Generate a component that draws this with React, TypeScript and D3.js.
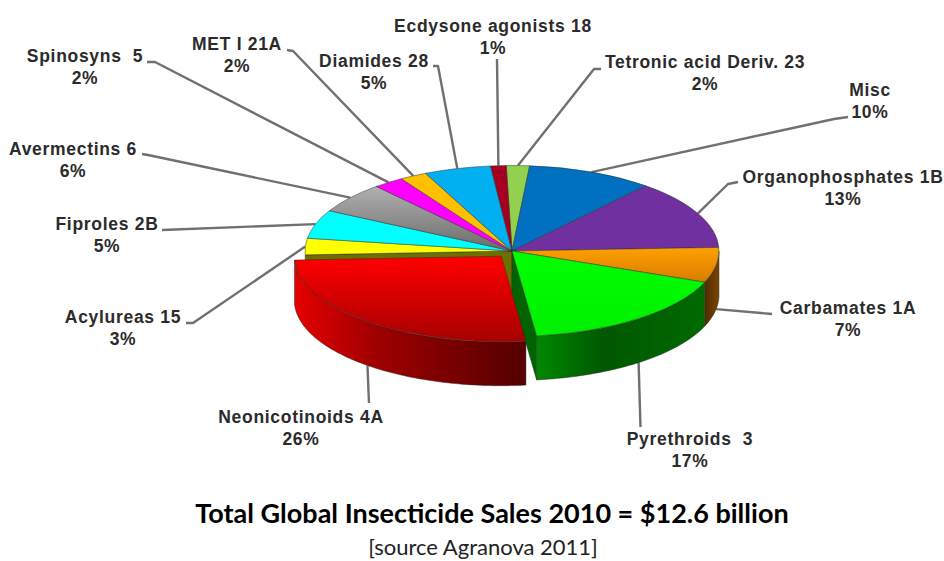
import React from "react";
import * as d3 from "d3";

// Insecticide classes, clockwise from the top of the pie.
const classNames = [
  "Tetronic acid Deriv. 23", "Misc", "Organophosphates 1B", "Carbamates 1A",
  "Pyrethroids  3", "Neonicotinoids 4A", "Acylureas 15", "Fiproles 2B",
  "Avermectins 6", "Spinosyns  5", "MET I 21A", "Diamides 28", "Ecdysone agonists 18",
];
// Share of sales in percent; the labels show these rounded to a whole percent.
const shares = [1.8, 9.8, 13.1, 6.6, 17.1, 26.1, 3.1, 5.4, 5.8, 2.4, 2.1, 5.2, 1.2];

const faceTop = ["#92d050", "#0070c0", "#7030a0", "#ffa000", "#00ff00", "#ff0000", "#ffff00", "#00ffff", "#b0b0b0", "#ff00ff", "#ffc000", "#00b0f0", "#a50021"];
const faceBottom = ["#92d050", "#0070c0", "#7030a0", "#d87c00", "#00f000", "#a80000", "#ffff00", "#00ffff", "#6c6c6c", "#ff00ff", "#ffc000", "#00b0f0", "#a50021"];

// Label anchor (centre x, first baseline) and leader polyline start per class.
const labelSpots = [
  { x: 705, y: 68, elbow: [[601, 69], [594, 69]] },
  { x: 870, y: 96, elbow: [[848, 117], [834, 119]] },
  { x: 843, y: 183, elbow: [[738, 182], [728, 184]] },
  { x: 848, y: 314, elbow: [[772, 314]] },
  { x: 690, y: 445, elbow: [[640.5, 427]] },
  { x: 301, y: 423, elbow: [[369, 403]] },
  { x: 123, y: 323, elbow: [[186, 323], [193, 323]] },
  { x: 107, y: 230, elbow: [[162, 230]] },
  { x: 73, y: 155, elbow: [[142, 154], [148, 155]] },
  { x: 85, y: 62, elbow: [[147, 62], [155, 62]] },
  { x: 237, y: 50, elbow: [[287, 50], [293, 51]] },
  { x: 374, y: 67, elbow: [[433, 66], [438, 66]] },
  { x: 493, y: 32, elbow: [[497, 59]] },
];

const WIDTH = 944;
const HEIGHT = 561;
const CX = 512;
const CY = 251;
const RX = 207;
const RY = 85.5;
const DEPTH = 44;
const START_DEG = -1.6;
const EXPLODED = 5;
const EXPLODE_BY = 0.08;
const LABEL_FONT = "'Liberation Sans', Arial, sans-serif";
const CAPTION_FONT = "Lato, sans-serif";

const slices = d3
  .pie<number>()
  .sort(null)
  .startAngle((START_DEG * Math.PI) / 180)
  .endAngle((START_DEG * Math.PI) / 180 + 2 * Math.PI)(shares);

const arcGen = d3.arc<d3.PieArcDatum<number>>().innerRadius(0).outerRadius(RX);
const pct = d3.format(".0f");

// Point on the projected rim for a pie angle (0 at the top, clockwise).
const rim = (a: number, cx = CX, cy = CY): [number, number] => [
  cx + RX * Math.sin(a),
  cy - RY * Math.cos(a),
];

const polyline = d3.line();

function wallPath(a0: number, a1: number, cx: number, cy: number) {
  const n = Math.max(2, Math.ceil(((a1 - a0) * 180) / Math.PI));
  const upper = d3.range(n + 1).map((i) => rim(a0 + ((a1 - a0) * i) / n, cx, cy));
  const lower = upper.map(([x, y]) => [x, y + DEPTH] as [number, number]).reverse();
  return polyline([...upper, ...lower]) + "Z";
}

function cutFace(a: number, cx: number, cy: number) {
  const p = rim(a, cx, cy);
  return polyline([[cx, cy], p, [p[0], p[1] + DEPTH], [cx, cy + DEPTH]]) + "Z";
}

const midAngle = (s: d3.PieArcDatum<number>) => (s.startAngle + s.endAngle) / 2;

function centreOf(i: number): [number, number] {
  if (i !== EXPLODED) return [CX, CY];
  const m = midAngle(slices[i]);
  return [CX + RX * EXPLODE_BY * Math.sin(m), CY - RY * EXPLODE_BY * Math.cos(m)];
}

function leaderPath(i: number) {
  const m = midAngle(slices[i]);
  const [cx, cy] = centreOf(i);
  const p = rim(m, cx, cy);
  const front = Math.cos(m) < -0.05;
  const end: [number, number] = front ? [p[0], p[1] + DEPTH] : p;
  return polyline([...(labelSpots[i].elbow as [number, number][]), end]) || "";
}

const edge = { stroke: "#2a2a2a", strokeOpacity: 0.6, strokeWidth: 0.8 };
const leaderOrder = d3.range(slices.length);

export default function App() {
  const green = slices[4];
  const orange = slices[3];
  const red = slices[EXPLODED];
  const [rx, ry] = centreOf(EXPLODED);
  const frontStart = Math.PI / 2;

  return (
    <svg
      width={WIDTH}
      height={HEIGHT}
      viewBox={`0 0 ${WIDTH} ${HEIGHT}`}
      style={{ position: "absolute", left: 0, top: 0, background: "#fff" }}
    >
      <defs>
        {slices.map((_, i) => (
          <linearGradient key={i} id={`face-${i}`} x1="0" y1="0" x2="0" y2="1">
            <stop offset="0" stopColor={faceTop[i]} />
            <stop offset="1" stopColor={faceBottom[i]} />
          </linearGradient>
        ))}
        <linearGradient id="wall-red" x1="0" y1="0" x2="1" y2="0">
          <stop offset="0" stopColor="#e60000" />
          <stop offset="0.35" stopColor="#a00000" />
          <stop offset="0.7" stopColor="#760000" />
          <stop offset="1" stopColor="#540000" />
        </linearGradient>
        <linearGradient id="wall-green" x1="0" y1="0" x2="1" y2="0">
          <stop offset="0" stopColor="#008800" />
          <stop offset="0.4" stopColor="#005800" />
          <stop offset="1" stopColor="#006a00" />
        </linearGradient>
        <linearGradient id="wall-orange" x1="0" y1="0" x2="1" y2="0">
          <stop offset="0" stopColor="#4f2c00" />
          <stop offset="1" stopColor="#7a4600" />
        </linearGradient>
      </defs>

      <g fill="none" stroke="#707070" strokeWidth={2.4} strokeLinejoin="round">
        {leaderOrder.map((i) => (
          <path key={i} d={leaderPath(i)} />
        ))}
      </g>

      {/* Inner cut faces exposed by the pulled-out slice */}
      <path d={cutFace(red.endAngle, CX, CY)} fill="#6f6f00" {...edge} />
      <path d={cutFace(green.endAngle, CX, CY)} fill="#006400" {...edge} />

      {/* Outer walls of the slices that stay in place */}
      <path
        d={wallPath(Math.max(orange.startAngle, frontStart), orange.endAngle, CX, CY)}
        fill="url(#wall-orange)"
        {...edge}
      />
      <path d={wallPath(green.startAngle, green.endAngle, CX, CY)} fill="url(#wall-green)" {...edge} />

      {/* Top faces */}
      <g transform={`translate(${CX},${CY}) scale(1,${RY / RX})`}>
        {slices.map((s, i) =>
          i === EXPLODED ? null : (
            <path
              key={i}
              d={arcGen(s) || ""}
              fill={`url(#face-${i})`}
              {...edge}
              vectorEffect="non-scaling-stroke"
            />
          ),
        )}
      </g>

      {/* Pulled-out neonicotinoid slice */}
      <path d={wallPath(red.startAngle, red.endAngle, rx, ry)} fill="url(#wall-red)" {...edge} />
      <path
        d={arcGen(red) || ""}
        transform={`translate(${rx},${ry}) scale(1,${RY / RX})`}
        fill={`url(#face-${EXPLODED})`}
        {...edge}
        vectorEffect="non-scaling-stroke"
      />

      <g
        fontFamily={LABEL_FONT}
        fontWeight={700}
        fontSize={17.5}
        letterSpacing={0.7}
        fill="#2b2b2b"
        textAnchor="middle"
      >
        {classNames.map((name, i) => (
          <text key={name} x={labelSpots[i].x} y={labelSpots[i].y} xmlSpace="preserve">
            <tspan x={labelSpots[i].x}>{name}</tspan>
            <tspan x={labelSpots[i].x} dy={22}>{`${pct(shares[i])}%`}</tspan>
          </text>
        ))}
      </g>

      <text x={492} y={523} textAnchor="middle" fontFamily={CAPTION_FONT} fontWeight={700} fontSize={27} fill="#000">
        Total Global Insecticide Sales 2010 = $12.6 billion
      </text>
      <text x={483} y={555} textAnchor="middle" fontFamily={CAPTION_FONT} fontSize={22} fill="#222">
        [source Agranova 2011]
      </text>
    </svg>
  );
}
